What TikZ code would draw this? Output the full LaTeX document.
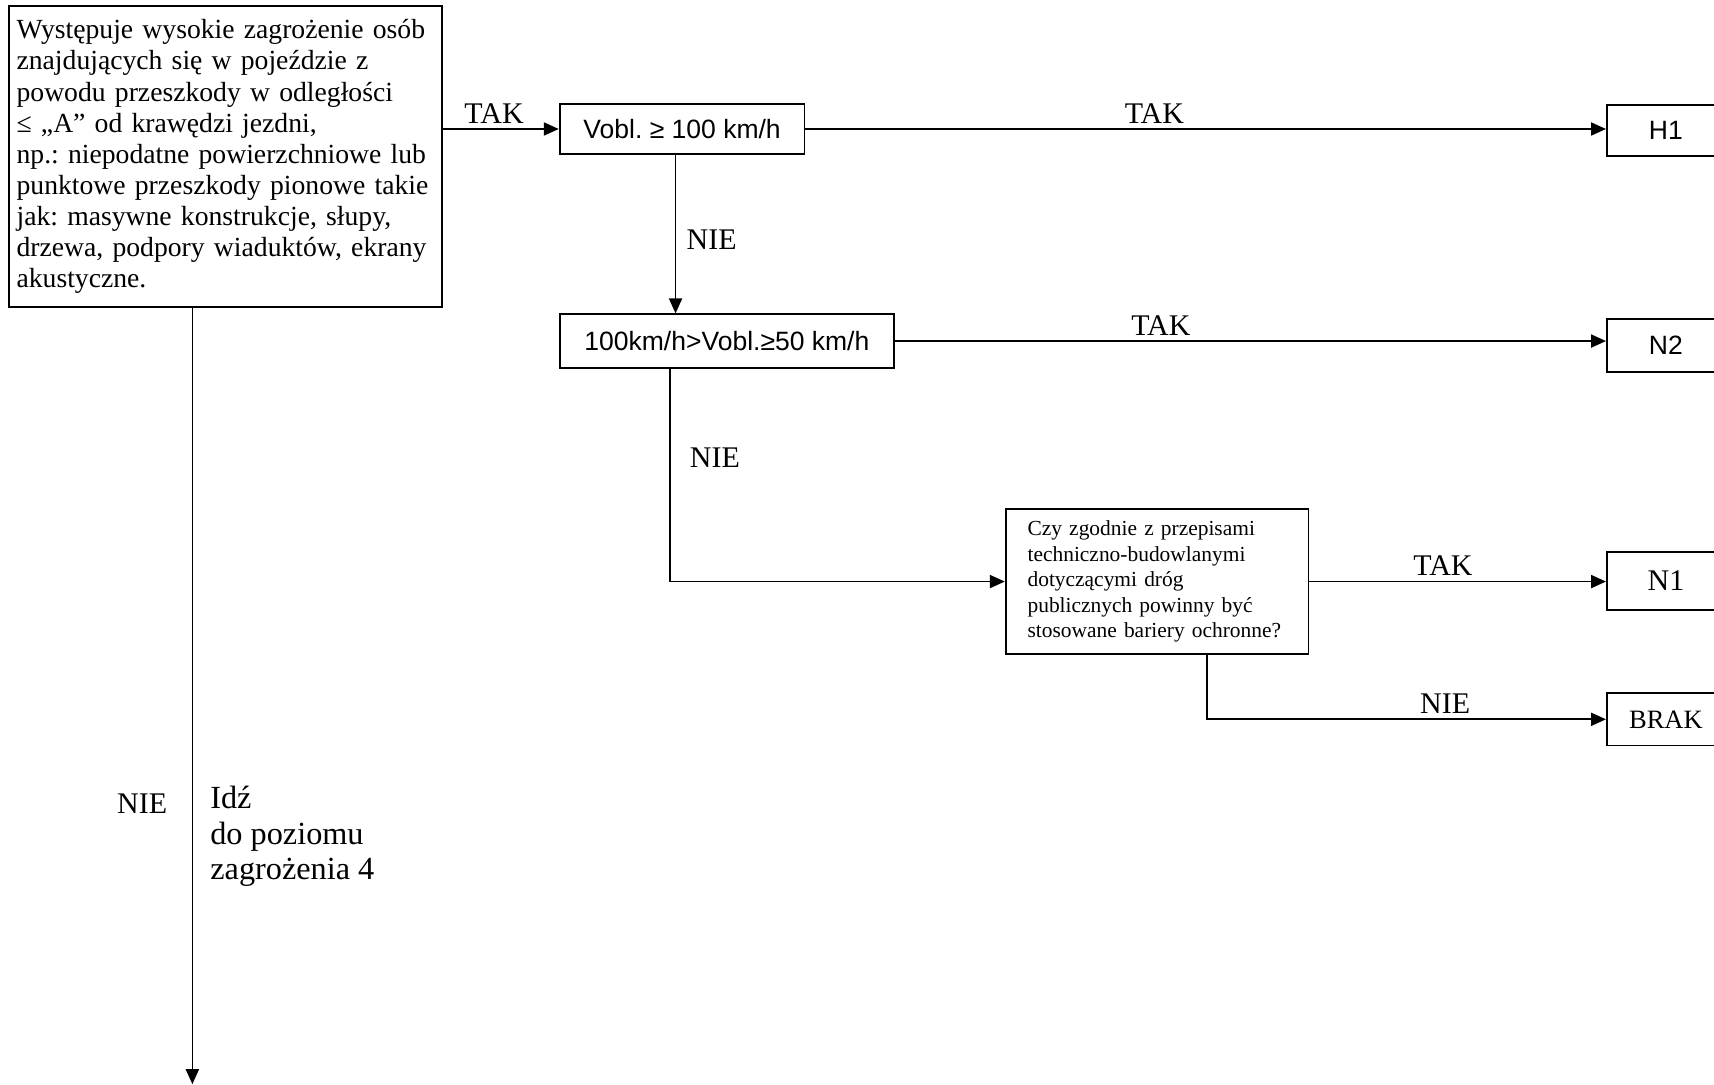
\documentclass[tikz,border=0pt]{standalone}
\usepackage{fontspec}
\setmainfont{Liberation Serif}
\newfontfamily\arialfont{Liberation Sans}
\usepackage{tikz}
\usetikzlibrary{positioning}
\usetikzlibrary{arrows.meta,calc}
\frenchspacing

\tikzset{
  box/.style={draw, rectangle, line width=0.8pt, inner sep=0pt},
  arr/.style={draw, line width=0.7pt, -{Triangle[length=6.5pt,width=5.7pt]}},
  lbl/.style={inner sep=0pt, font=\fontsize{13}{15}\selectfont},
}

\begin{document}
\begin{tikzpicture}
 \useasboundingbox (0,0) rectangle (26.133,-16.533);

 %question boxes
 \node[box, text width=6.36cm, minimum height=4.59cm, inner xsep=0.12cm, align=left,
       font=\fontsize{12}{13.5}\selectfont] (main) at (3.433,-2.388)
   {Występuje wysokie zagrożenie osób\\
    znajdujących się w pojeździe z\\
    powodu przeszkody w odległości\\
    ≤ „A” od krawędzi jezdni,\\
    np.: niepodatne powierzchniowe lub\\
    punktowe przeszkody pionowe takie\\
    jak: masywne konstrukcje, słupy,\\
    drzewa, podpory wiaduktów, ekrany\\
    akustyczne.};
 \node[box, minimum width=3.733cm, minimum height=0.767cm,
       font=\arialfont\fontsize{11.5}{13}\selectfont] (vobl) at (10.4,-1.967) {Vobl. ≥ 100 km/h};
 \node[box, minimum width=5.1cm, minimum height=0.817cm,
       font=\arialfont\fontsize{11.5}{13}\selectfont] (v2) at (11.083,-5.2) {100km/h>Vobl.≥50 km/h};
 \node[box, text width=3.95cm, minimum height=2.2cm, inner xsep=0.333cm, align=left,
       font=\fontsize{9.3}{11}\selectfont] (q) at (17.642,-8.867)
   {Czy zgodnie z przepisami\\
    techniczno-budowlanymi\\
    dotyczącymi dróg\\
    publicznych powinny być\\
    stosowane bariery ochronne?};

 %results
 \node[box, minimum width=1.8cm, minimum height=0.783cm,
       font=\arialfont\fontsize{11.5}{13}\selectfont] (h1) at (25.4,-1.992) {H1};
 \node[box, minimum width=1.8cm, minimum height=0.8cm,
       font=\arialfont\fontsize{11.5}{13}\selectfont] (n2) at (25.4,-5.267) {N2};
 \node[box, minimum width=1.8cm, minimum height=0.883cm,
       font=\fontsize{13}{15}\selectfont] (n1) at (25.4,-8.858) {N1};
 \node[box, minimum width=1.8cm, minimum height=0.8cm,
       font=\fontsize{11.5}{13}\selectfont] (brak) at (25.4,-10.967) {BRAK};

 %lines
 \path[arr] (main.east |- vobl.west) -- (vobl.west);
 \path[arr] (vobl.east) -- (vobl.east -| h1.west);
 \path[arr] ([xshift=-0.1cm]vobl.south) -- ([xshift=-0.1cm]vobl.south |- v2.north);
 \path[arr] (v2.east) -- (v2.east -| n2.west);
 \path[arr] ([xshift=-0.87cm]v2.south) |- (q.west);
 \path[arr] (q.east) -- (q.east -| n1.west);
 \path[arr] ([xshift=0.76cm]q.south) |- (brak.west);

 \coordinate (lvl4) at ([xshift=-0.5cm]main.south |- 0,-16.53);
 \path[arr] ([xshift=-0.5cm]main.south) -- (lvl4);

 %labels
 \node[lbl] (tak1) at (7.533,-1.733) {TAK};
 \node[lbl] (tak2) at (17.6,-1.733) {TAK};
 \node[lbl] (nie1) at (10.85,-3.65) {NIE};
 \node[lbl] (tak3) at (17.7,-4.967) {TAK};
 \node[lbl] (nie2) at (10.9,-6.983) {NIE};
 \node[lbl] (tak4) at (22.0,-8.617) {TAK};
 \node[lbl] (nie3) at (22.033,-10.733) {NIE};
 \node[lbl] (nie4) at (2.167,-12.25) {NIE};
 \node[inner sep=0pt, anchor=north west, align=left,
       font=\fontsize{14}{15.4}\selectfont] (goto) at (3.2,-11.98)
   {Idź\\ do poziomu\\ zagrożenia 4};

\end{tikzpicture}
\end{document}
